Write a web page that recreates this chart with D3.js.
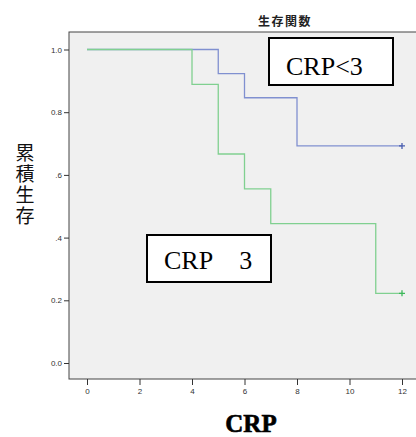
<!DOCTYPE html>
<html>
<head>
<meta charset="utf-8">
<script src="https://cdn.jsdelivr.net/npm/d3@7"></script>
<style>
  html, body { margin: 0; padding: 0; background: #fff; }
  svg { display: block; }
</style>
</head>
<body>
<svg id="chart" width="416" height="437"></svg>
<script>
// Kaplan–Meier step data (time, cumulative survival)
const lowTimes = [0, 5, 6, 8, 12];
const lowSurv = [1.0, 12 / 13, 11 / 13, 9 / 13, 9 / 13];
const highTimes = [0, 4, 5, 6, 7, 11, 12];
const highSurv = [1.0, 8 / 9, 6 / 9, 5 / 9, 4 / 9, 2 / 9, 2 / 9];
const xTicks = [0, 2, 4, 6, 8, 10, 12];
const yTicks = [0.0, 0.2, 0.4, 0.6, 0.8, 1.0];
const yTickLabels = ["0.0", "0.2", ".4", ".6", "0.8", "1.0"];

const svg = d3.select("#chart");
const frame = { left: 69, top: 32, right: 417, bottom: 379 };

const x = d3.scaleLinear().domain([0, 12]).range([87, 402]);
const y = d3.scaleLinear().domain([0, 1]).range([363, 49.5]);

// plot background
svg.append("rect")
  .attr("x", frame.left).attr("y", frame.top)
  .attr("width", frame.right - frame.left).attr("height", frame.bottom - frame.top)
  .attr("fill", "#f0f0f0").attr("stroke", "#444").attr("stroke-width", 1);

// title
svg.append("text").attr("x", 285).attr("y", 26)
  .attr("text-anchor", "middle")
  .attr("font-family", "Noto Sans CJK JP").attr("font-weight", "bold")
  .attr("font-size", 12).attr("letter-spacing", 1.5)
  .attr("fill", "#222").text("生存関数");

// axes
const yAxis = d3.axisLeft(y).tickValues(yTicks)
  .tickFormat((d, i) => yTickLabels[i]).tickSize(5).tickPadding(2);
const gy = svg.append("g").attr("transform", `translate(${frame.left},0)`).call(yAxis);
gy.select(".domain").remove();
gy.selectAll("text").attr("font-family", "Liberation Sans").attr("font-size", 8).attr("fill", "#333");
gy.selectAll("line").attr("stroke", "#333");

const xAxis = d3.axisBottom(x).tickValues(xTicks).tickSize(6).tickPadding(3);
const gx = svg.append("g").attr("transform", `translate(0,${frame.bottom})`).call(xAxis);
gx.select(".domain").remove();
gx.selectAll("text").attr("font-family", "Liberation Sans").attr("font-size", 8).attr("fill", "#333");
gx.selectAll("line").attr("stroke", "#333");

// survival curves
const step = d3.line().x((d) => x(d[0])).y((d) => y(d[1])).curve(d3.curveStepAfter);
const series = [
  { t: lowTimes, s: lowSurv, line: "#8090d0", mark: "#4a5fb0" },
  { t: highTimes, s: highSurv, line: "#80d090", mark: "#3cb85a" }
];
series.forEach((ser) => {
  const pts = ser.t.map((t, i) => [t, ser.s[i]]);
  svg.append("path").attr("d", step(pts))
    .attr("fill", "none").attr("stroke", ser.line).attr("stroke-width", 1.3);
  const last = pts[pts.length - 1];
  const cx = x(last[0]), cy = y(last[1]);
  svg.append("path")
    .attr("d", `M${cx - 3},${cy}H${cx + 3}M${cx},${cy - 3}V${cy + 3}`)
    .attr("stroke", ser.mark).attr("stroke-width", 1.3);
});

// group labels
function box(x0, y0, w, h) {
  svg.append("rect").attr("x", x0).attr("y", y0).attr("width", w).attr("height", h)
    .attr("fill", "#fff").attr("stroke", "#000").attr("stroke-width", 2);
}
function boxText(tx, ty, size) {
  return svg.append("text").attr("x", tx).attr("y", ty)
    .attr("font-family", "Liberation Serif").attr("font-size", size).attr("fill", "#000");
}
box(269, 38, 124, 47);
boxText(286, 75, 26).text("CRP<3");

box(147, 235, 124, 47);
const t2 = boxText(164, 269, 26);
t2.append("tspan").text("CRP");
t2.append("tspan").attr("dx", 26).text("3");

// axis titles
svg.append("text").attr("x", 25).attr("y", 143)
  .attr("writing-mode", "vertical-rl")
  .attr("font-family", "Noto Sans CJK JP").attr("font-size", 19)
  .attr("letter-spacing", 2).attr("fill", "#111").text("累積生存");

svg.append("text").attr("x", 251).attr("y", 432)
  .attr("text-anchor", "middle").attr("font-family", "Liberation Serif")
  .attr("font-weight", "bold").attr("font-size", 25)
  .attr("stroke", "#000").attr("stroke-width", 0.6)
  .attr("fill", "#000").text("CRP");
</script>
</body>
</html>
